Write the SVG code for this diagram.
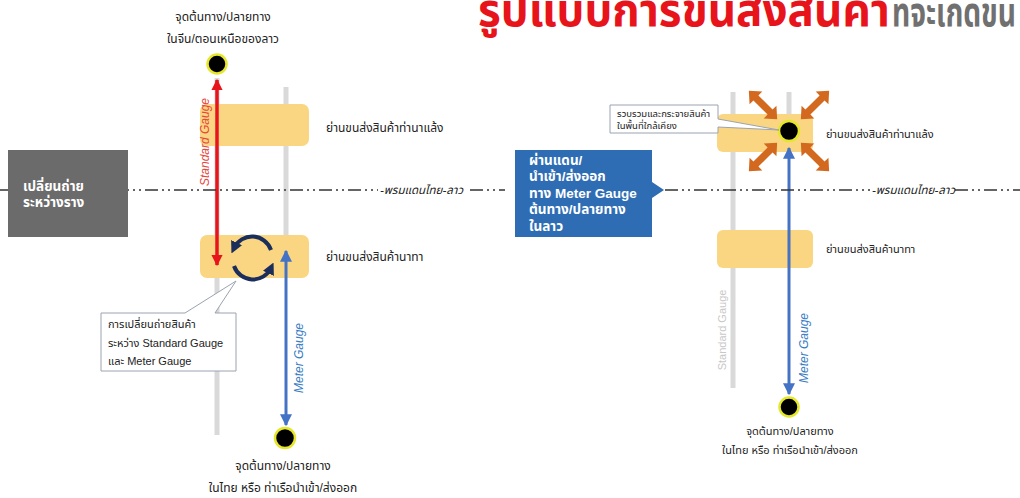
<svg xmlns="http://www.w3.org/2000/svg" width="1020" height="498" viewBox="0 0 1020 498">
<style>
.t{font-family:"Liberation Sans","Noto Sans Thai",sans-serif;fill:#222;font-size:12px}
.ts{font-size:11px}
.wb{fill:#fff;font-weight:bold;font-size:13.5px}
.rail{stroke:#d9d9d9;stroke-width:5;fill:none}
.zone{fill:#fad682}
.border{stroke:#333;stroke-width:1.5;stroke-dasharray:13 4 2 4 2 4;fill:none}
.node{fill:#000;stroke:#e6e62a;stroke-width:2.5}
.gl{font-family:"Liberation Sans",sans-serif;font-style:italic;font-size:12px}
.org{fill:#d2691e}
</style>
<defs>
<marker id="ar" viewBox="0 0 10 10" refX="9" refY="5" markerWidth="3.2" markerHeight="3.2" orient="auto-start-reverse"><path d="M0 0L10 5L0 10Z" fill="#e8141b"/></marker>
<marker id="ab" viewBox="0 0 10 10" refX="9" refY="5" markerWidth="4" markerHeight="4" orient="auto-start-reverse"><path d="M0 0L10 5L0 10Z" fill="#4472c4"/></marker>
<marker id="an" viewBox="0 0 10 10" refX="5" refY="5" markerWidth="3" markerHeight="3" orient="auto"><path d="M0 0L10 5L0 10Z" fill="#1b2d5a"/></marker>
<path id="dbl" d="M-20 0L-10 -9L-10 -3.5L10 -3.5L10 -9L20 0L10 9L10 3.5L-10 3.5L-10 9Z"/>
</defs>

<g id="title">
<text x="478" y="26" style="font-family:'Liberation Sans','Noto Sans Thai',sans-serif;font-weight:bold;font-size:46px;fill:#e8141b" textLength="412" lengthAdjust="spacingAndGlyphs">รูปแบบการขนส่งสินค้า</text>
<text x="892" y="26" style="font-family:'Liberation Sans','Noto Sans Thai',sans-serif;font-weight:bold;font-size:40px;fill:#707070" textLength="124" lengthAdjust="spacingAndGlyphs">ที่จะเกิดขึ้น</text>
</g>

<g id="rails">
<line class="rail" x1="217" y1="78" x2="217" y2="435"/>
<line class="rail" x1="286" y1="87" x2="286" y2="250"/>
<line class="rail" x1="733" y1="92" x2="733" y2="388"/>
<line class="rail" x1="789" y1="92" x2="789" y2="148"/>
</g>

<g id="zone-thanaleng-left"><rect class="zone" x="200" y="104" width="109" height="42" rx="7"/><text class="t" x="326" y="132">ย่านขนส่งสินค้าท่านาแล้ง</text></g>
<g id="zone-nathang-left"><rect class="zone" x="200" y="235" width="109" height="43" rx="7"/><text class="t" x="326" y="261">ย่านขนส่งสินค้านาทา</text></g>
<g id="zone-thanaleng-right"><rect class="zone" x="717" y="114" width="96" height="38" rx="6"/><text class="t" x="826" y="138" style="font-size:11px">ย่านขนส่งสินค้าท่านาแล้ง</text></g>
<g id="zone-nathang-right"><rect class="zone" x="717" y="230" width="96" height="38" rx="6"/><text class="t" x="826" y="253" style="font-size:11px">ย่านขนส่งสินค้านาทา</text></g>

<g id="connectors">
<line x1="217" y1="80" x2="217" y2="265" stroke="#e8141b" stroke-width="3.5" marker-start="url(#ar)" marker-end="url(#ar)"/>
<line x1="286" y1="251" x2="286" y2="425" stroke="#4472c4" stroke-width="3" marker-start="url(#ab)" marker-end="url(#ab)"/>
<line x1="789" y1="148" x2="789" y2="394" stroke="#4472c4" stroke-width="3" marker-start="url(#ab)" marker-end="url(#ab)"/>
<path d="M271 250A20 20 0 0 0 234 248" stroke="#1b2d5a" stroke-width="4" fill="none" marker-end="url(#an)"/>
<path d="M234 266A20 20 0 0 0 271 268" stroke="#1b2d5a" stroke-width="4" fill="none" marker-end="url(#an)"/>
</g>

<g id="border-line">
<line class="border" x1="0" y1="190" x2="378" y2="190"/>
<line class="border" x1="470" y1="190" x2="505" y2="190"/>
<text class="t" x="380" y="194" style="font-style:italic;font-size:11.5px">-พรมแดนไทย-ลาว</text>
<line class="border" x1="665" y1="190" x2="870" y2="190"/>
<line class="border" x1="955" y1="190" x2="1020" y2="190"/>
<text class="t" x="872" y="194" style="font-style:italic;font-size:11.5px">-พรมแดนไทย-ลาว</text>
</g>

<g id="gauge-labels">
<text class="gl" transform="translate(209 142) rotate(-90)" text-anchor="middle" fill="#e8453c">Standard Gauge</text>
<text class="gl" transform="translate(303 358) rotate(-90)" text-anchor="middle" fill="#3a7cc4">Meter Gauge</text>
<text class="gl" transform="translate(726 330) rotate(-90)" text-anchor="middle" fill="#c8c8c8" style="font-style:normal;font-size:11px">Standard Gauge</text>
<text class="gl" transform="translate(808 348) rotate(-90)" text-anchor="middle" fill="#3a7cc4">Meter Gauge</text>
</g>

<g id="node-china">
<circle class="node" cx="217" cy="64" r="9.5"/>
<text class="t" x="223" y="21" text-anchor="middle">จุดต้นทาง/ปลายทาง</text>
<text class="t" x="223" y="43" text-anchor="middle">ในจีน/ตอนเหนือของลาว</text>
</g>

<g id="node-thai-left">
<circle class="node" cx="285" cy="438" r="10"/>
<text class="t" x="283" y="470" text-anchor="middle">จุดต้นทาง/ปลายทาง</text>
<text class="t" x="283" y="492" text-anchor="middle">ในไทย หรือ ท่าเรือนำเข้า/ส่งออก</text>
</g>

<g id="node-thai-right">
<circle class="node" cx="789" cy="407" r="9.5"/>
<text class="t" x="790" y="435" text-anchor="middle" style="font-size:11px">จุดต้นทาง/ปลายทาง</text>
<text class="t" x="790" y="454" text-anchor="middle" style="font-size:11px">ในไทย หรือ ท่าเรือนำเข้า/ส่งออก</text>
</g>

<g id="transfer-box">
<rect x="8" y="150" width="120" height="87" fill="#6b6b6b"/>
<text class="t wb" x="23" y="191">เปลี่ยนถ่าย</text>
<text class="t wb" x="23" y="207">ระหว่างราง</text>
</g>

<g id="callout-left">
<path d="M101 313H185L236 281L215 313H236V371H101Z" fill="#fff" stroke="#9aa3b0" stroke-width="1"/>
<text class="t ts" x="108" y="328">การเปลี่ยนถ่ายสินค้า</text>
<text class="t ts" x="108" y="347">ระหว่าง Standard Gauge</text>
<text class="t ts" x="108" y="365">และ Meter Gauge</text>
</g>

<g id="laos-box">
<path d="M515 150H652V182L664 190L652 198V237H515Z" fill="#2e6db4"/>
<text class="t wb" x="529" y="165">ผ่านแดน/</text>
<text class="t wb" x="529" y="181">นำเข้า/ส่งออก</text>
<text class="t wb" x="529" y="198">ทาง Meter Gauge</text>
<text class="t wb" x="529" y="214">ต้นทาง/ปลายทาง</text>
<text class="t wb" x="529" y="231">ในลาว</text>
</g>

<g id="hub">
<use href="#dbl" class="org" transform="translate(763 105) rotate(45)"/>
<use href="#dbl" class="org" transform="translate(815 105) rotate(-45)"/>
<use href="#dbl" class="org" transform="translate(763 157) rotate(-45)"/>
<use href="#dbl" class="org" transform="translate(815 157) rotate(45)"/>
<circle class="node" cx="789" cy="131" r="10"/>
</g>

<g id="callout-right">
<path d="M610 105H718V119L779 130L718 127V133H610Z" fill="#fff" stroke="#9aa3b0" stroke-width="1"/>
<text class="t" x="617" y="117" style="font-size:9.5px">รวบรวมและกระจายสินค้า</text>
<text class="t" x="617" y="129" style="font-size:9.5px">ในพื้นที่ใกล้เคียง</text>
</g>
</svg>
